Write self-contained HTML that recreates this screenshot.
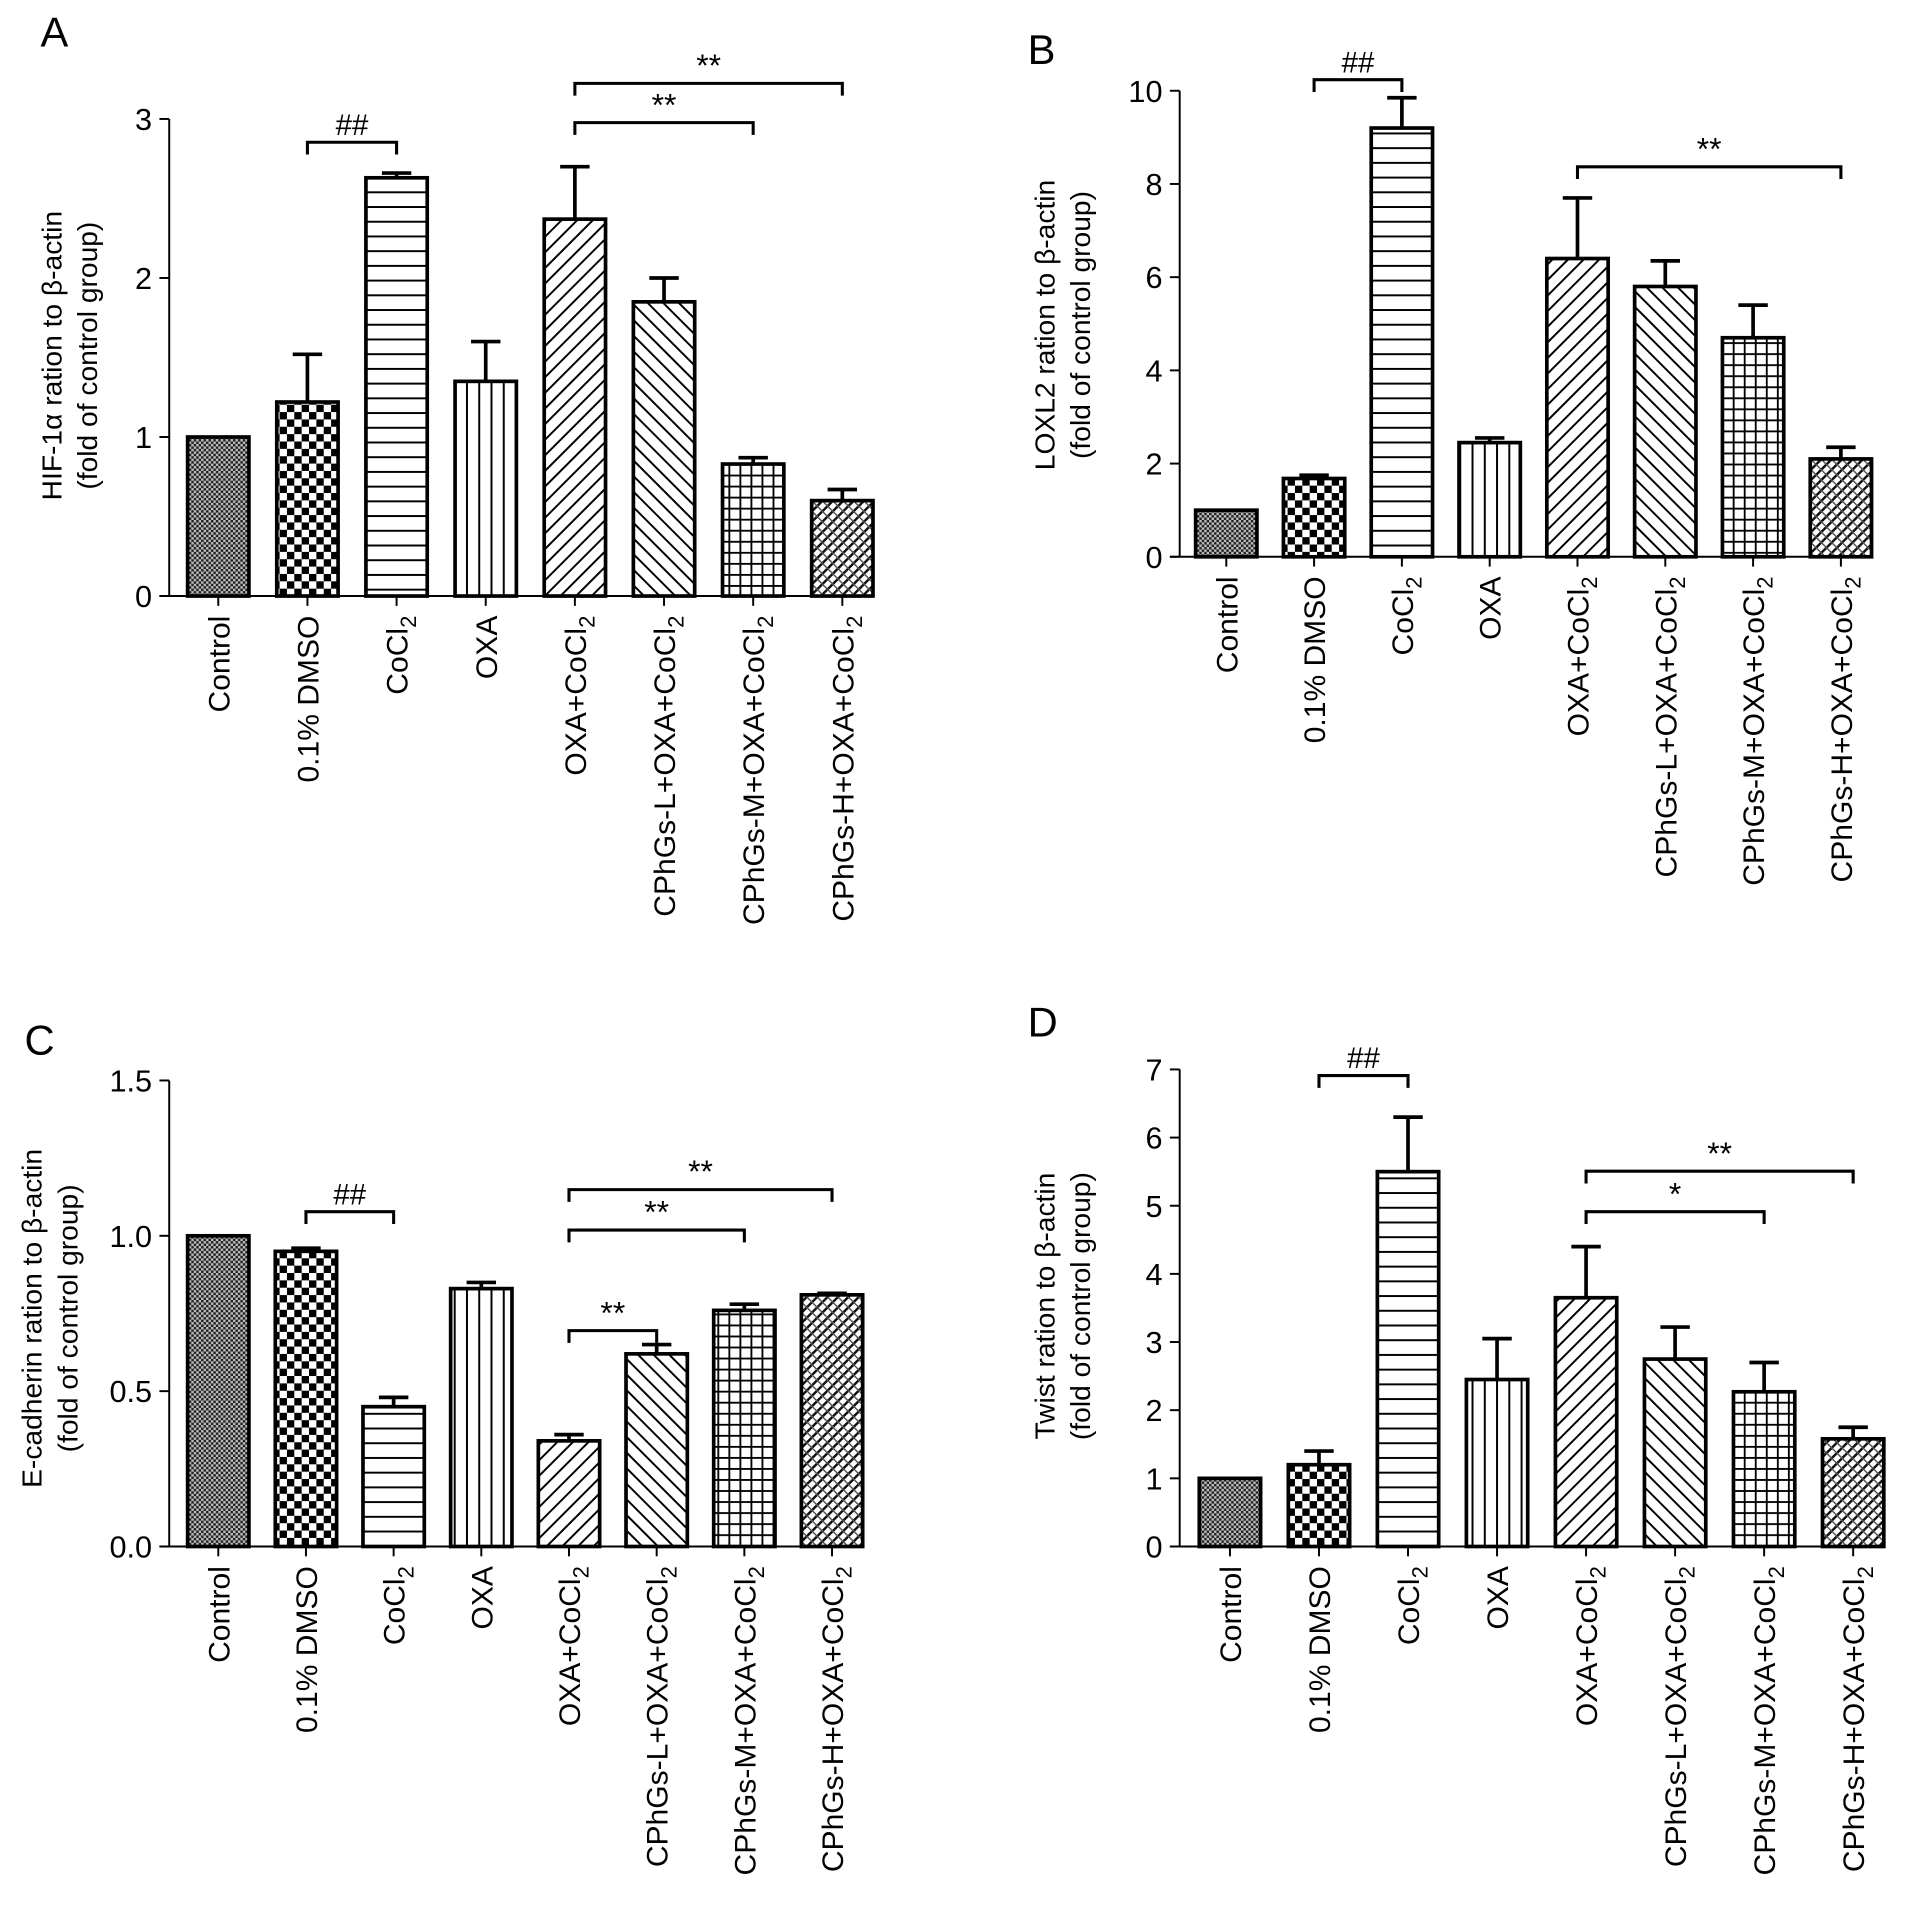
<!DOCTYPE html>
<html><head><meta charset="utf-8"><style>
html,body{margin:0;padding:0;background:#fff;}
svg{display:block;font-family:"Liberation Sans",sans-serif;}
</style></head><body>
<svg id="fig" width="1913" height="1923" viewBox="0 0 1560 1568" preserveAspectRatio="none" xmlns="http://www.w3.org/2000/svg">
<defs>
<pattern id="p0" patternUnits="userSpaceOnUse" width="4" height="4"><rect width="4" height="4" fill="#bbb"/><rect width="2" height="2" fill="#222"/><rect x="2" y="2" width="2" height="2" fill="#222"/></pattern>
<pattern id="p1" patternUnits="userSpaceOnUse" width="12" height="12"><rect width="12" height="12" fill="#fff"/><rect width="6" height="6" fill="#000"/><rect x="6" y="6" width="6" height="6" fill="#000"/></pattern>
<pattern id="p2" patternUnits="userSpaceOnUse" width="10" height="12"><rect width="10" height="12" fill="#fff"/><rect y="0" width="10" height="1.6" fill="#000"/></pattern>
<pattern id="p3" patternUnits="userSpaceOnUse" width="10" height="10"><rect width="10" height="10" fill="#fff"/><rect x="0" width="1.6" height="10" fill="#000"/></pattern>
<pattern id="p4" patternUnits="userSpaceOnUse" width="9" height="9" patternTransform="rotate(45)"><rect width="9" height="9" fill="#fff"/><rect width="1.6" height="9" fill="#000"/></pattern>
<pattern id="p5" patternUnits="userSpaceOnUse" width="9" height="9" patternTransform="rotate(-45)"><rect width="9" height="9" fill="#fff"/><rect width="1.6" height="9" fill="#000"/></pattern>
<pattern id="p6" patternUnits="userSpaceOnUse" width="9" height="9"><rect width="9" height="9" fill="#fff"/><rect width="1.5" height="9" fill="#000"/><rect width="9" height="1.5" fill="#000"/></pattern>
<pattern id="p7" patternUnits="userSpaceOnUse" width="6" height="6" patternTransform="rotate(45)"><rect width="6" height="6" fill="#fff"/><rect width="2" height="6" fill="#111"/><rect width="6" height="1.2" fill="#555"/></pattern>
</defs>
</svg>
<script>
const categories = ["Control","0.1% DMSO","CoCl2","OXA","OXA+CoCl2","CPhGs-L+OXA+CoCl2","CPhGs-M+OXA+CoCl2","CPhGs-H+OXA+CoCl2"];
const valuesA = [1.0,1.22,2.63,1.35,2.37,1.85,0.83,0.60];
const errorsA = [0,0.30,0.03,0.25,0.33,0.15,0.04,0.07];
const valuesB = [1.0,1.68,9.2,2.45,6.4,5.8,4.7,2.1];
const errorsB = [0,0.07,0.65,0.1,1.3,0.55,0.7,0.25];
const valuesC = [1.0,0.95,0.45,0.83,0.34,0.62,0.76,0.81];
const errorsC = [0,0.01,0.03,0.02,0.02,0.03,0.02,0.005];
const valuesD = [1.0,1.2,5.5,2.45,3.65,2.75,2.27,1.58];
const errorsD = [0,0.2,0.8,0.6,0.75,0.47,0.43,0.17];
const ticksA = [0,1,2,3], ticksB=[0,2,4,6,8,10], ticksC=["0.0","0.5","1.0","1.5"], ticksD=[0,1,2,3,4,5,6,7];

const NS="http://www.w3.org/2000/svg";
const svg=document.getElementById('fig');
function el(tag,attrs,parent,text){const e=document.createElementNS(NS,tag);for(const k in attrs)e.setAttribute(k,attrs[k]);if(text!==undefined)e.textContent=text;(parent||svg).appendChild(e);return e;}

const panels=[
 {id:'a',letter:'A',lx:33,ly:38,ax:138,xEnd:713,y0:486,yTop:97,max:3,ticks:ticksA,c0:178,sp:72.7,bw:50,lab:502,tx:50,ty:290,
  t1:'HIF-1α ration to β-actin',vals:valuesA,errs:errorsA,
  br:[[1,2,116,'##'],[4,6,100,'**'],[4,7,68,'**']]},
 {id:'b',letter:'B',lx:838,ly:52,ax:962,xEnd:1525,y0:454,yTop:74,max:10,ticks:ticksB,c0:1000,sp:71.6,bw:50,lab:470,tx:860,ty:265,
  t1:'LOXL2 ration to β-actin',vals:valuesB,errs:errorsB,
  br:[[1,2,65,'##'],[4,7,136,'**']]},
 {id:'c',letter:'C',lx:20,ly:860,ax:138,xEnd:700,y0:1261,yTop:881,max:1.5,ticks:ticksC,c0:178,sp:71.5,bw:50,lab:1277,tx:34,ty:1075,
  t1:'E-cadherin ration to β-actin',vals:valuesC,errs:errorsC,
  br:[[1,2,988,'##'],[4,5,1085,'**'],[4,6,1003,'**'],[4,7,970,'**']]},
 {id:'d',letter:'D',lx:838,ly:845,ax:962,xEnd:1537,y0:1261,yTop:872,max:7,ticks:ticksD,c0:1003,sp:72.6,bw:50,lab:1277,tx:860,ty:1065,
  t1:'Twist ration to β-actin',vals:valuesD,errs:errorsD,
  br:[[1,2,877,'##'],[4,6,988,'*'],[4,7,955,'**']]}
];

panels.forEach(p=>{
 const g=el('g',{});
 
 
 const y=v=>p.y0-(v/p.max)*(p.y0-p.yTop);
 const cx=i=>p.c0+i*p.sp;
 const L=el('text',{x:p.lx,y:p.ly,'font-size':34},g,p.letter);
 
 
 const ya=el('line',{x1:p.ax,y1:p.yTop,x2:p.ax,y2:p.y0,stroke:'#000','stroke-width':1.6},g);
 
 
 const xa=el('line',{x1:p.ax-8,y1:p.y0,x2:p.xEnd,y2:p.y0,stroke:'#000','stroke-width':1.6},g);
 
 
 p.ticks.forEach(t=>{
  const yy=y(parseFloat(t));
  el('line',{x1:p.ax-8,y1:yy,x2:p.ax,y2:yy,stroke:'#000','stroke-width':1.6},g);
  const tl=el('text',{x:p.ax-14,y:yy+9,'font-size':25,'text-anchor':'end'},g,String(t));
  
  
 });
 const tt=el('text',{transform:`translate(${p.tx},${p.ty}) rotate(-90)`,'font-size':23,'text-anchor':'middle'},g);
 
 
 el('tspan',{x:0,dy:0},tt,p.t1);
 el('tspan',{x:0,dy:29},tt,'(fold of control group)');
 p.vals.forEach((v,i)=>{
  const x=cx(i)-p.bw/2, top=y(v);
  const b=el('rect',{x:x,y:top,width:p.bw,height:p.y0-top,fill:`url(#p${i})`,stroke:'#000','stroke-width':3},g);
  
  
  if(p.errs[i]>0){
   const et=y(v+p.errs[i]);
   const e=el('path',{d:`M${cx(i)},${top} V${et} M${cx(i)-12},${et} H${cx(i)+12}`,stroke:'#000','stroke-width':3,fill:'none'},g);
   
   
  }
  el('line',{x1:cx(i),y1:p.y0,x2:cx(i),y2:p.y0+8,stroke:'#000','stroke-width':1.6},g);
  const c=categories[i];
  const lt=el('text',{transform:`translate(${cx(i)+9},${p.lab}) rotate(-90)`,'font-size':24.5,'text-anchor':'end'},g);
  
  
  if(c.endsWith('CoCl2')){
   el('tspan',{},lt,c.slice(0,-1));
   el('tspan',{'font-size':18,dy:7},lt,'2');
  } else lt.textContent=c;
 });
 p.br.forEach(([a,b,yy,s])=>{
  const x1=cx(a),x2=cx(b);
  const k=el('path',{d:`M${x1},${yy+10} V${yy} H${x2} V${yy+10}`,stroke:'#000','stroke-width':2.5,fill:'none'},g);
  
  
  const st=el('text',{x:(x1+x2)/2,y:yy-6,'font-size':s==='##'?24:26,'text-anchor':'middle'},g,s);
  
  
 });
});
</script>
</body></html>
